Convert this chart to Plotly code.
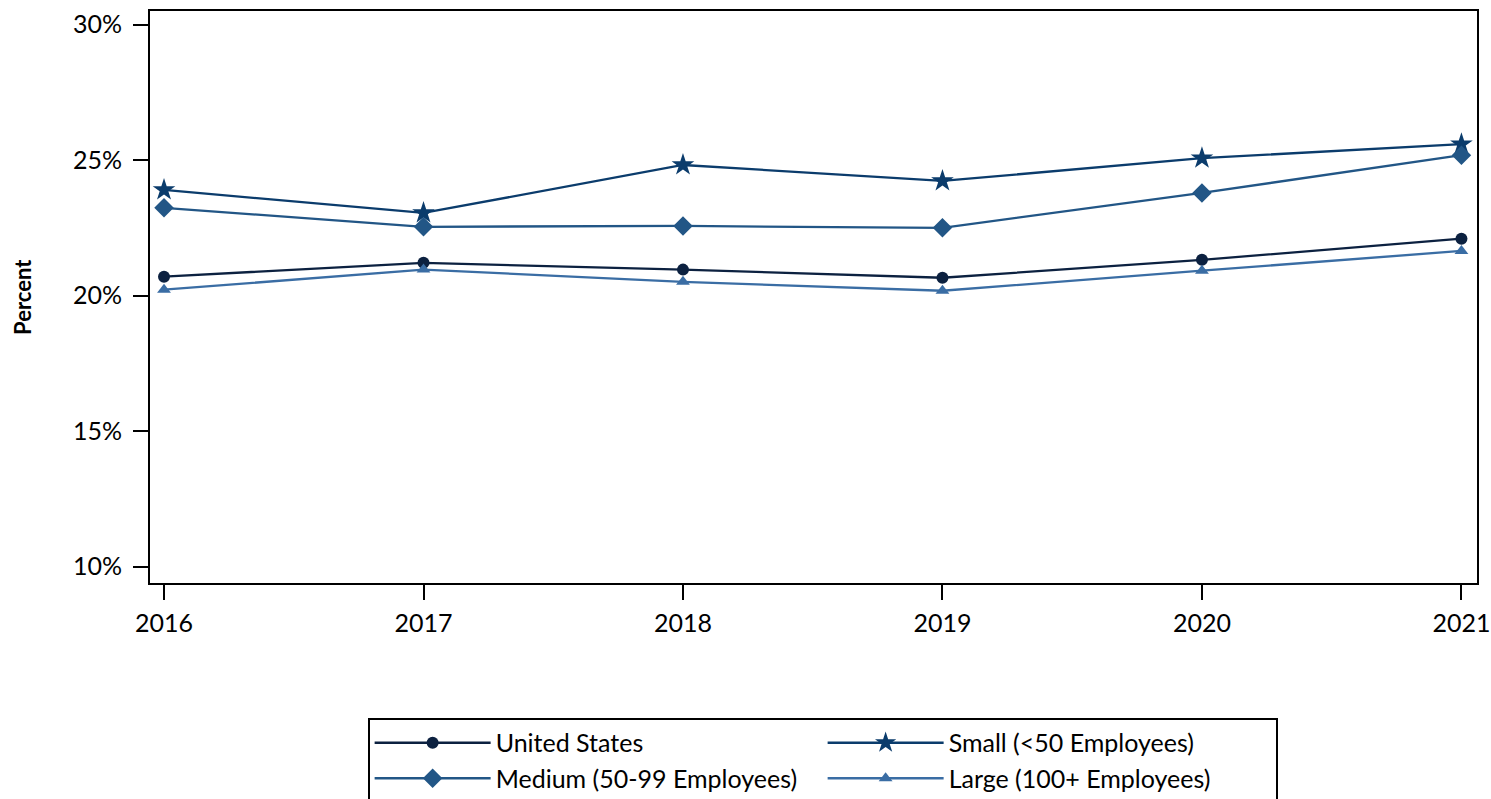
import plotly.graph_objects as go

years = [2016, 2017, 2018, 2019, 2020, 2021]
us = [20.70, 21.21, 20.96, 20.66, 21.32, 22.10]
small = [23.90, 23.05, 24.82, 24.23, 25.07, 25.59]
medium = [23.24, 22.54, 22.57, 22.50, 23.79, 25.18]
large = [20.22, 20.96, 20.51, 20.18, 20.92, 21.65]

names = ["United States", "Small (<50 Employees)", "Medium (50-99 Employees)", "Large (100+ Employees)"]
colors = ["#0c2140", "#0b3c6c", "#225686", "#3a6da4"]
symbols = ["circle", "star", "diamond", "triangle-up"]
sizes = [12, 17, 15, 12]
series = [us, small, medium, large]

yticks = [10, 15, 20, 25, 30]
ytext = ["10%", "15%", "20%", "25%", "30%"]

FONT = "Lato, Open Sans, sans-serif"

fig = go.Figure()
for nm, vals, c, s, sz in zip(names, series, colors, symbols, sizes):
    fig.add_trace(go.Scatter(
        x=years, y=vals, name=nm, mode="lines+markers",
        line=dict(color=c, width=2.3),
        marker=dict(symbol=s, size=sz, color=c),
        hovertemplate="%{x}: %{y:.1f}%<extra>" + nm + "</extra>",
    ))

fig.update_layout(
    width=1491, height=799,
    margin=dict(l=150, r=14, t=11, b=216, autoexpand=False),
    plot_bgcolor="white", paper_bgcolor="white",
    font=dict(family=FONT, size=25, color="black"),
    showlegend=True,
    legend=dict(
        orientation="h", x=0.164, y=-0.236, xanchor="left", yanchor="top",
        bordercolor="black", borderwidth=2,
        entrywidth=322, itemwidth=116,
        font=dict(family=FONT, size=25, color="black"),
        traceorder="normal",
        tracegroupgap=0,
    ),
    xaxis=dict(
        range=[2015.946, 2021.06], tickvals=years, ticktext=[str(y) for y in years],
        showline=True, linecolor="black", linewidth=2, mirror=True,
        ticks="outside", ticklen=15, tickwidth=2, tickcolor="black",
        showgrid=False, zeroline=False, automargin=False,
        ticklabelstandoff=2,
        tickfont=dict(family=FONT, size=25),
    ),
    yaxis=dict(
        range=[9.4, 30.5], tickvals=yticks, ticktext=ytext,
        showline=True, linecolor="black", linewidth=2, mirror=True,
        ticks="outside", ticklen=15, tickwidth=2, tickcolor="black",
        showgrid=False, zeroline=False, automargin=False,
        ticklabelstandoff=6,
        tickfont=dict(family=FONT, size=25),
    ),
    annotations=[dict(
        text="<b>Percent</b>", textangle=-90, xref="paper", yref="paper",
        x=-0.0965, y=0.5, xanchor="center", yanchor="middle", showarrow=False,
        font=dict(family=FONT, size=22, color="black"),
    )],
)

fig.write_html(
    "out.html",
    config={"displayModeBar": False},
    post_script="document.body.style.margin='0';document.body.style.overflow='hidden';",
)
